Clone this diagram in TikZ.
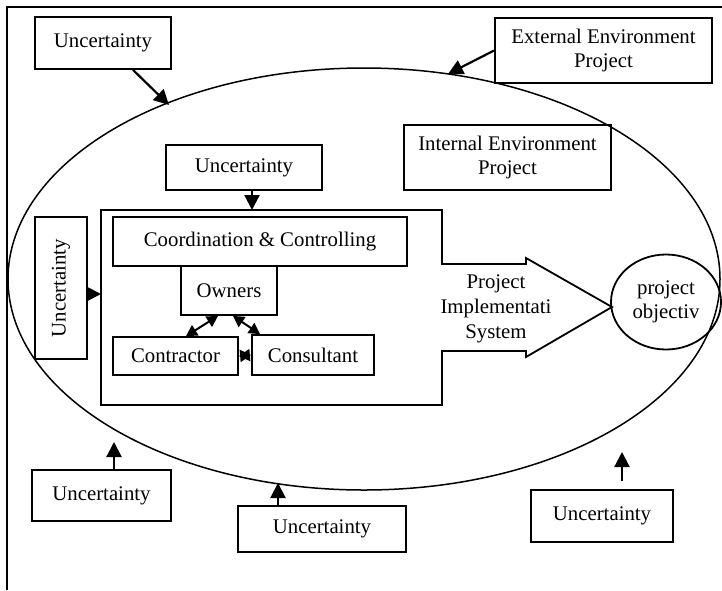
\documentclass[tikz,border=0pt]{standalone}
\usepackage{fontspec}
\setmainfont{Liberation Serif}
\usetikzlibrary{arrows.meta,shapes.geometric}

\begin{document}
\begin{tikzpicture}[x=1pt,y=-1pt,
  box/.style={draw=black, rectangle, line width=1.8pt, inner sep=0pt, font=\fontsize{20.8}{24.5}\selectfont, align=center},
  arr/.style={line width=2.2pt, -{Triangle[length=15pt,width=15pt]}},
  dbl/.style={line width=2pt, {Triangle[length=11pt,width=12pt]}-{Triangle[length=11pt,width=12pt]}}]
\useasboundingbox (0,0) rectangle (722,590);
\draw[line width=1.6pt] (7,590) -- (7,7) -- (722,7);

\node[draw=black, ellipse, line width=1.5pt, inner sep=0pt, minimum width=712pt, minimum height=422pt] (env) at (364,279) {};

\node[box, minimum width=136pt, minimum height=52pt] (uTL) at (103,43) {Uncertainty};
\node[box, minimum width=217pt, minimum height=65pt] (uExt) at (603.5,50.5) {External Environment\\Project};
\node[box, minimum width=207pt, minimum height=65pt] (inEnv) at (507.5,157.5) {Internal Environment\\Project};
\node[box, minimum width=156pt, minimum height=45pt] (uTop) at (244,167.5) {Uncertainty};
\node[box, rotate=90, minimum width=142pt, minimum height=52pt] (uLeft) at (61,288) {Uncertainty};
\node[box, minimum width=139pt, minimum height=51pt] (uBL) at (101.5,495.5) {Uncertainty};
\node[box, minimum width=168pt, minimum height=46pt] (uBM) at (322,529) {Uncertainty};
\node[box, minimum width=142pt, minimum height=52pt] (uBR) at (602,516) {Uncertainty};

% implementation system
\draw[line width=1.8pt] (101,210) -- (442,210) -- (442,264) -- (526,264) -- (526,258) -- (612,307)
  -- (526,357) -- (526,351) -- (442,351) -- (442,405) -- (101,405) -- cycle;
\node[font=\fontsize{20.8}{25}\selectfont, align=center] (sys) at (496,309) {Project\\Implementati\\System};
\coordinate (sysT) at (252,210);
\coordinate (sysL) at (101,294);

\node[box, minimum width=294pt, minimum height=49pt] (coord) at (260,241.5) {Coordination \& Controlling};
\node[box, minimum width=96pt, minimum height=49pt] (own) at (229,290.5) {Owners};
\node[box, minimum width=125pt, minimum height=38pt] (contr) at (175.5,356) {Contractor};
\node[box, minimum width=122pt, minimum height=40pt] (cons) at (313,355) {Consultant};

\node[draw=black, ellipse, line width=1.8pt, inner sep=0pt, minimum width=110pt, minimum height=95pt, font=\fontsize{20.8}{24}\selectfont, align=center] (obj) at (666,302) {project\\objectiv};

\coordinate (eTL) at (169,105);
\coordinate (eTR) at (448,74);
\coordinate (eBM) at (278,483);
\coordinate (pBL) at (114,442);
\coordinate (pBRs) at (622,481);
\coordinate (pBR) at (622,452);

\draw[arr] ([xshift=30pt]uTL.south) -- (eTL);
\draw[arr] (uExt.west) -- (eTR);
\draw[arr] ([xshift=8pt]uTop.south) -- (sysT);
\draw[arr] ([yshift=-6pt]uLeft.south) -- (sysL);
\draw[arr] ([xshift=12.5pt]uBL.north) -- (pBL);
\draw[arr] ([xshift=-44pt]uBM.north) -- (eBM);
\draw[arr] (pBRs) -- (pBR);

\draw[dbl] ([xshift=10.5pt]contr.north) -- ([xshift=-11pt]own.south);
\draw[dbl] ([xshift=4pt]own.south) -- ([xshift=-53pt]cons.north);
\draw[dbl] (contr.east) -- (cons.west);
\end{tikzpicture}
\end{document}
